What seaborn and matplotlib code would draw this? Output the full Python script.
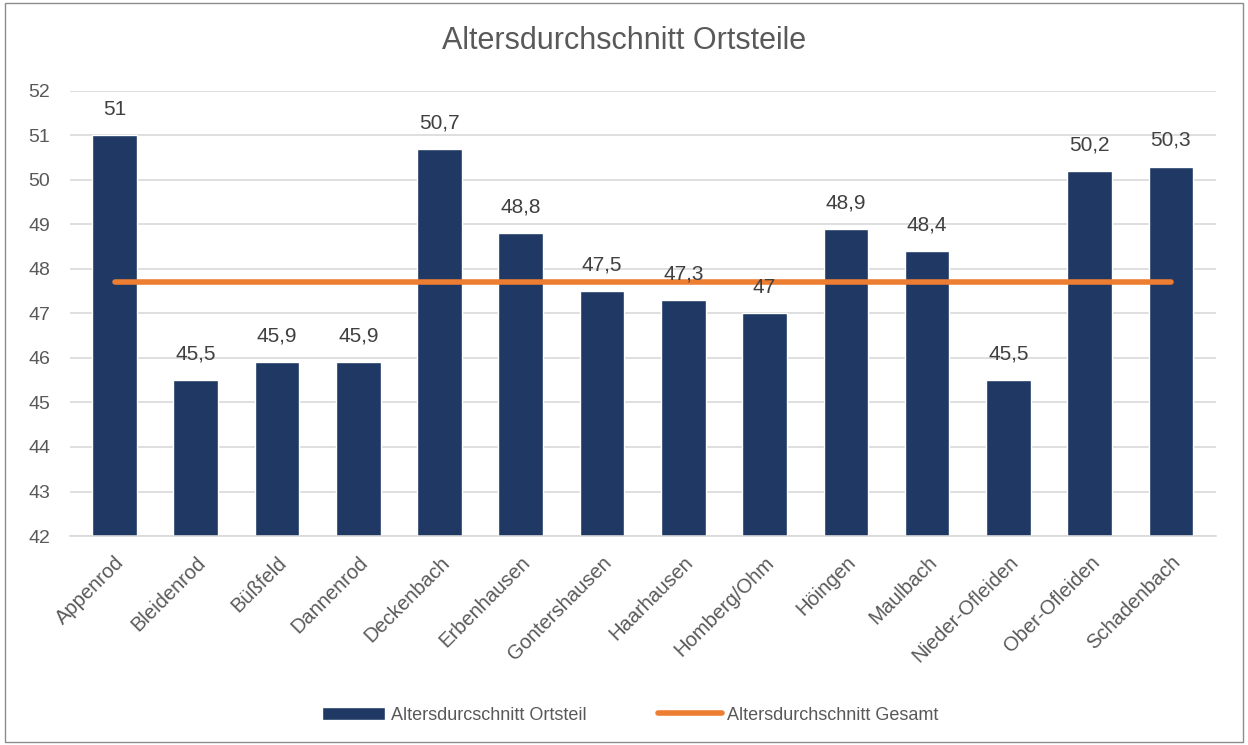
import matplotlib
matplotlib.use("Agg")
import matplotlib.pyplot as plt
import seaborn as sns
import pandas as pd
from matplotlib import font_manager as fm

ortsteile = ["Appenrod", "Bleidenrod", "Büßfeld", "Dannenrod", "Deckenbach", "Erbenhausen",
             "Gontershausen", "Haarhausen", "Homberg/Ohm", "Höingen", "Maulbach",
             "Nieder-Ofleiden", "Ober-Ofleiden", "Schadenbach"]
alter_ortsteil = [51, 45.5, 45.9, 45.9, 50.7, 48.8, 47.5, 47.3, 47, 48.9, 48.4, 45.5, 50.2, 50.3]
alter_gesamt = [47.7] * len(ortsteile)
y_ticks = list(range(42, 53))
titel = "Altersdurchschnitt Ortsteile"
label_bar = "Altersdurcschnitt Ortsteil"
label_line = "Altersdurchschnitt Gesamt"

sns.set_theme(style="white")
names = {f.name for f in fm.fontManager.ttflist}
fam = ["Liberation Sans Narrow"] if "Liberation Sans Narrow" in names else ["Liberation Sans"]
plt.rcParams["font.family"] = fam + ["DejaVu Sans"]

df = pd.DataFrame({"Ortsteil": ortsteile, "Alter": alter_ortsteil, "Gesamt": alter_gesamt})

fig = plt.figure(figsize=(12.48, 7.45), dpi=100)
ax = fig.add_axes([0.056, 0.2805, 0.918, 0.5975])
fig.patches.append(plt.Rectangle((0.004, 0.004), 0.992, 0.992, transform=fig.transFigure,
                                 fill=False, edgecolor="#8c8c8c", linewidth=1.0))

gray = "#595959"
sns.barplot(data=df, x="Ortsteil", y="Alter", color="#1f3864", width=0.55, ax=ax,
            label=label_bar, saturation=1)
sns.lineplot(data=df, x="Ortsteil", y="Gesamt", color="#ed7d31", linewidth=4, ax=ax,
             label=label_line, solid_capstyle="round")

ax.set_ylim(42, 52)
ax.set_xlim(-0.55, len(ortsteile) - 0.45)
ax.set_yticks(y_ticks)
ax.grid(axis="y", color="#d9d9d9", linewidth=1.2)
ax.set_axisbelow(True)
for s in ["top", "right", "left"]:
    ax.spines[s].set_visible(False)
ax.spines["bottom"].set_color("#d9d9d9")
ax.spines["bottom"].set_linewidth(1.2)
ax.tick_params(axis="y", colors=gray, labelsize=14, length=0, pad=14)
ax.tick_params(axis="x", colors=gray, labelsize=14.5, length=0, pad=12)
plt.setp(ax.get_xticklabels(), rotation=45, ha="right", rotation_mode="anchor")
ax.set_xlabel("")
ax.set_ylabel("")

for c in ax.containers:
    ax.bar_label(c, labels=[f"{v:g}".replace(".", ",") for v in alter_ortsteil],
                 padding=12, fontsize=15, color="#404040")

fig.text(0.5, 0.945, titel, ha="center", va="center", fontsize=22, color=gray)

handles, labels = ax.get_legend_handles_labels()
order = [labels.index(label_bar), labels.index(label_line)]
leg = ax.legend([handles[i] for i in order], [labels[i] for i in order],
                loc="center", bbox_to_anchor=(0.505, 0.04), bbox_transform=fig.transFigure,
                ncol=2, frameon=False, fontsize=13, handlelength=3.5, columnspacing=4,
                handletextpad=0.3)
for t in leg.get_texts():
    t.set_color(gray)

fig.savefig("out.png", dpi=100)
